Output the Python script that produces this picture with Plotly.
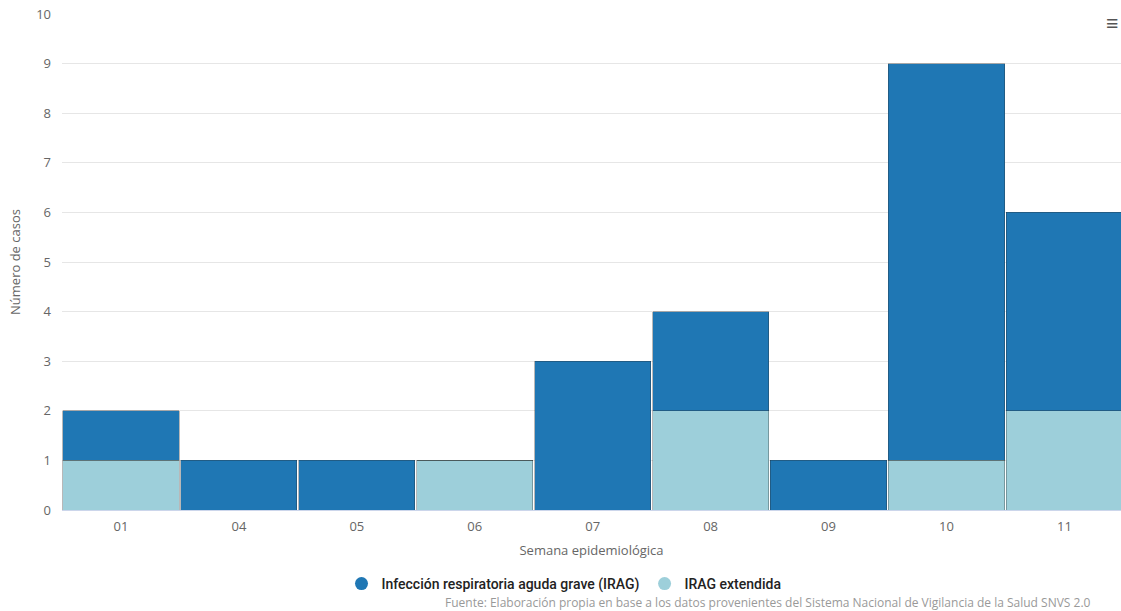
import plotly.graph_objects as go

semanas = ["01", "04", "05", "06", "07", "08", "09", "10", "11"]
irag_extendida = [1, 0, 0, 1, 0, 2, 0, 1, 2]
irag = [1, 1, 1, 0, 3, 2, 1, 8, 4]
y_ticks = list(range(0, 11))

c_irag = "#1f77b4"
c_ext = "#9dcfda"
line = dict(color="rgba(40,40,40,0.55)", width=0.6)

fig = go.Figure()
fig.add_trace(go.Bar(x=semanas, y=irag_extendida, name="IRAG extendida",
                     marker=dict(color=c_ext, line=line), showlegend=False))
fig.add_trace(go.Bar(x=semanas, y=irag, name="Infección respiratoria aguda grave (IRAG)",
                     marker=dict(color=c_irag, line=line), showlegend=False))
# legend entries with circle symbols
fig.add_trace(go.Scatter(x=[None], y=[None], mode="markers", name="Infección respiratoria aguda grave (IRAG)",
                         marker=dict(symbol="circle", size=13, color=c_irag)))
fig.add_trace(go.Scatter(x=[None], y=[None], mode="markers", name="IRAG extendida",
                         marker=dict(symbol="circle", size=13, color=c_ext)))

L, R, T, B = 62, 0, 14, 101
W, H = 1121, 611
pw = W - L - R
ph = 510 - 14

fig.update_layout(
    width=W, height=H,
    margin=dict(l=L, r=R, t=T, b=B),
    barmode="stack", bargap=0.015,
    plot_bgcolor="white", paper_bgcolor="white",
    font=dict(family="Open Sans", color="#666666", size=13),
    legend=dict(orientation="h", x=(564 - L) / pw, xanchor="center",
                y=-(584 - 510) / ph, yanchor="middle",
                font=dict(family="Roboto", size=14, color="#222222", weight=500),
                itemwidth=30, traceorder="normal"),
    xaxis=dict(type="category", categoryorder="array", categoryarray=semanas,
               range=[-0.5, 8.48], showgrid=False,
               showline=True, linecolor="#ccd6eb", linewidth=1,
               ticks="", ticklabelstandoff=4,
               tickfont=dict(size=13, color="#666666"),
               title=dict(text="Semana epidemiológica", standoff=12,
                          font=dict(size=13, color="#666666"))),
    yaxis=dict(range=[0, 10], tickvals=y_ticks, showgrid=True, gridcolor="#e6e6e6",
               zeroline=False, ticks="", ticklabelstandoff=10,
               tickfont=dict(size=13, color="#666666"),
               title=dict(text="Número de casos", standoff=12,
                          font=dict(size=13, color="#666666"))),
    annotations=[
        dict(text="Fuente: Elaboración propia en base a los datos provenientes del Sistema Nacional de Vigilancia de la Salud SNVS 2.0",
             xref="paper", yref="paper", x=(443 - L) / pw, xanchor="left",
             y=-(602 - 510) / ph, yanchor="middle", showarrow=False,
             font=dict(family="Open Sans", size=12, color="#999999")),
        dict(text="<b>≡</b>", xref="paper", yref="paper", x=1, xanchor="right",
             y=(510 - 22) / ph, yanchor="middle", showarrow=False,
             font=dict(size=22, color="#555555")),
    ],
)

fig.write_html("out.html", config={"displayModeBar": False},
               post_script="document.body.style.margin='0';window.dispatchEvent(new Event('resize'));")
